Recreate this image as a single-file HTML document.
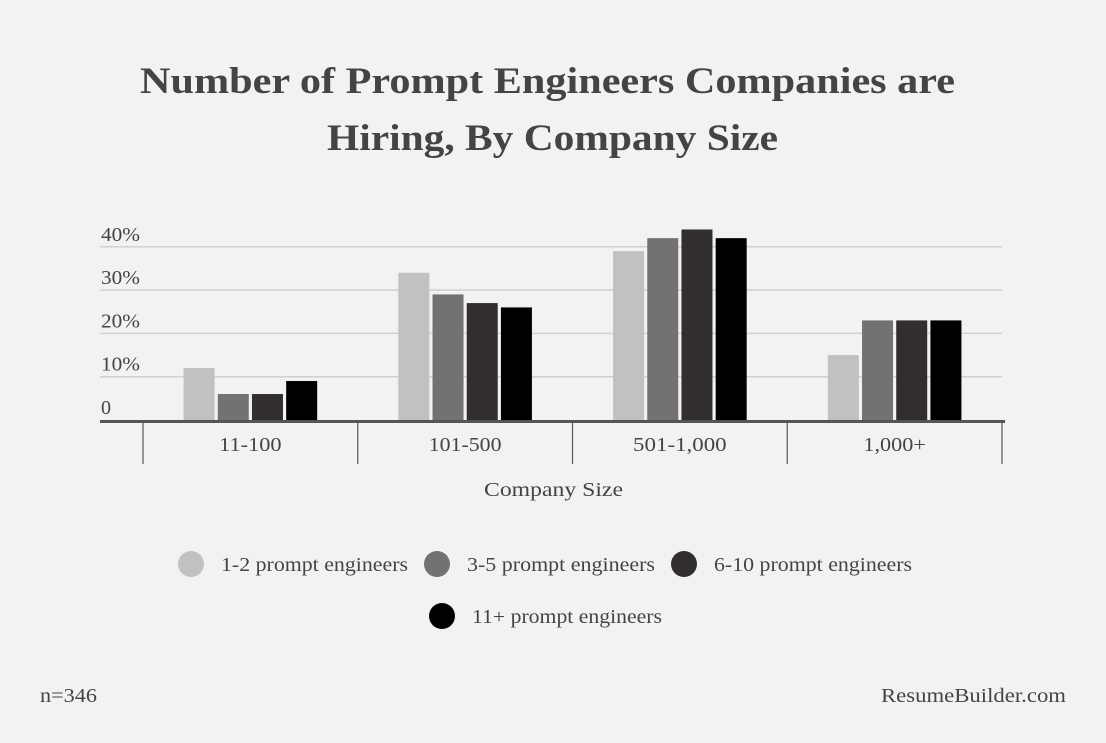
<!DOCTYPE html>
<html><head><meta charset="utf-8"><style>
html,body{margin:0;padding:0;background:#f2f2f2;}
svg{display:block;font-family:"Liberation Serif",serif;}
</style></head><body>
<svg id="chart" width="1106" height="743" viewBox="0 0 1106 743" xmlns="http://www.w3.org/2000/svg">
<rect width="1106" height="743" fill="#f2f2f2"/>
<text x="140" y="93" font-size="37" font-weight="bold" fill="#444" textLength="815" lengthAdjust="spacingAndGlyphs">Number of Prompt Engineers Companies are</text>
<text x="327" y="150" font-size="37" font-weight="bold" fill="#444" textLength="451" lengthAdjust="spacingAndGlyphs">Hiring, By Company Size</text>
<g id="grid"></g>
<g id="bars"></g>
<g id="axis"></g>
<text x="484" y="496" font-size="20" fill="#444" textLength="139" lengthAdjust="spacingAndGlyphs">Company Size</text>
<g id="legend"></g>
<text x="40" y="702" font-size="20" fill="#444" textLength="57" lengthAdjust="spacingAndGlyphs">n=346</text>
<text x="881" y="702" font-size="20" fill="#444" textLength="185" lengthAdjust="spacingAndGlyphs">ResumeBuilder.com</text>
</svg>
<script>
const categories = ["11-100", "101-500", "501-1,000", "1,000+"];
const seriesNames = ["1-2 prompt engineers", "3-5 prompt engineers", "6-10 prompt engineers", "11+ prompt engineers"];
const s1 = [12, 34, 39, 15];
const s2 = [6, 29, 42, 23];
const s3 = [6, 27, 44, 23];
const s4 = [9, 26, 42, 23];
const yTicks = [0, 10, 20, 30, 40];
const yTickLabels = ["0", "10%", "20%", "30%", "40%"];

const series = [s1, s2, s3, s4];
const colors = ["#c2c0c0", "#737171", "#332e2e", "#000000"];
const NS = "http://www.w3.org/2000/svg";
const y0 = 420, pxPer = 4.33;
const xLeft = 143, groupW = 214.75;
function yScale(v){ return y0 - v * pxPer; }
function groupX(i){ return xLeft + i * groupW; }
function mk(tag, attrs, parent){ const e = document.createElementNS(NS, tag); for (const k in attrs) e.setAttribute(k, attrs[k]); parent.appendChild(e); return e; }
function fitText(t, w){ t.setAttribute("textLength", w); t.setAttribute("lengthAdjust", "spacingAndGlyphs"); }

const grid = document.getElementById("grid");
yTicks.forEach((t, i) => {
  if (t > 0) {
    const l = mk("line", {x1: 100, x2: 1002, y1: yScale(t), y2: yScale(t), stroke: "#d0d0d0", "stroke-width": 1.5}, grid);
    
    
  }
  const tx = mk("text", {x: 101, y: yScale(t) - 6, "font-size": 20, fill: "#444"}, grid);
  tx.textContent = yTickLabels[i];
  if (t > 0) fitText(tx, 39);
  
  
});

const bars = document.getElementById("bars");
const bw = 31, gap = 3.2;
categories.forEach((c, ci) => {
  const center = groupX(ci) + groupW / 2;
  const total = 4 * bw + 3 * gap;
  series.forEach((s, si) => {
    const x = center - total / 2 + si * (bw + gap);
    const r = mk("rect", {x: x, y: yScale(s[ci]), width: bw, height: y0 - yScale(s[ci]), fill: colors[si]}, bars);
    
    
  });
});

const axis = document.getElementById("axis");
const al = mk("line", {x1: 100, x2: 1005, y1: 421.5, y2: 421.5, stroke: "#555", "stroke-width": 3}, axis);


for (let i = 0; i <= categories.length; i++) {
  const tk = mk("line", {x1: groupX(i), x2: groupX(i), y1: 421, y2: 464, stroke: "#555", "stroke-width": 1.2}, axis);
  
  
}
categories.forEach((c, ci) => {
  const t = mk("text", {x: groupX(ci) + groupW / 2, y: 451, "font-size": 20, fill: "#444", "text-anchor": "middle"}, axis);
  t.textContent = c;
  fitText(t, c.length * 10.4);
  
  
});

const legend = document.getElementById("legend");
const legPos = [[191, 564], [437, 564], [684, 564], [442, 616]];
const legW = [187, 188, 198, 190];
seriesNames.forEach((n, i) => {
  const g = mk("g", {}, legend);
  
  
  mk("circle", {cx: legPos[i][0], cy: legPos[i][1], r: 13, fill: colors[i]}, g);
  const t = mk("text", {x: legPos[i][0] + 30, y: legPos[i][1] + 7, "font-size": 20, fill: "#444"}, g);
  t.textContent = n;
  fitText(t, legW[i]);
});
</script>
</body></html>
